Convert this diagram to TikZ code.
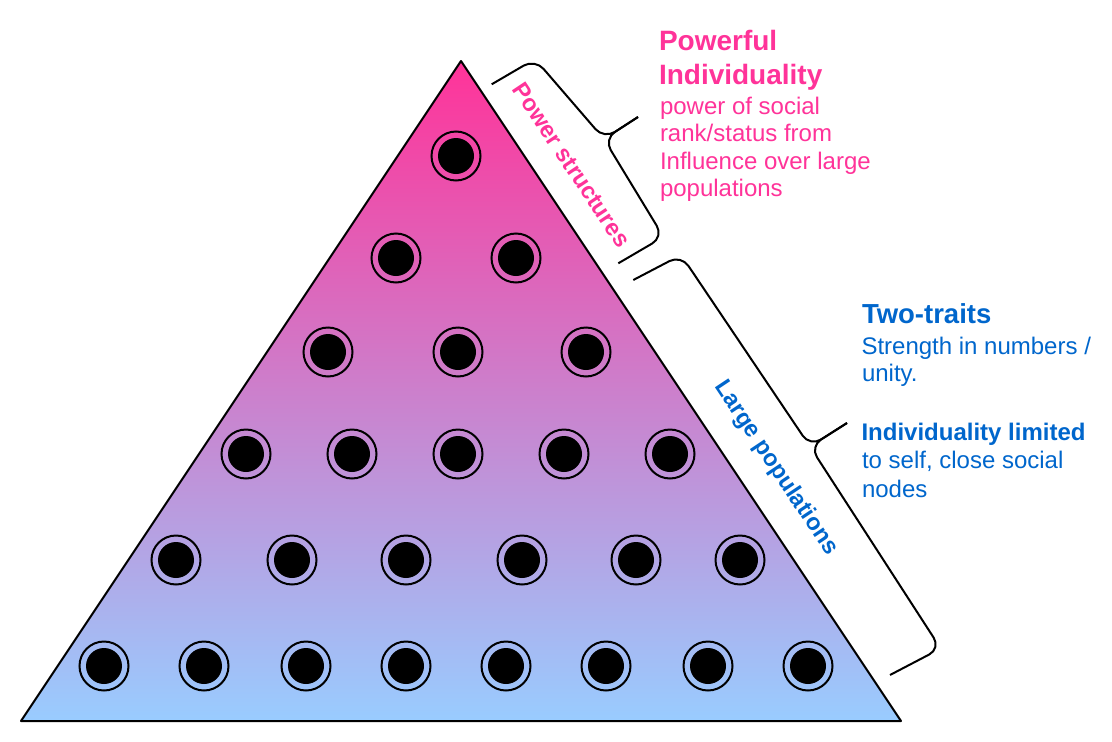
\documentclass[tikz,border=0pt]{standalone}
\usepackage{fontspec}
\setmainfont{Liberation Sans}
\definecolor{pinkc}{HTML}{FF3399}
\definecolor{bluec}{HTML}{0066CC}
\definecolor{skyc}{HTML}{99CCFF}
\begin{document}
\begin{tikzpicture}[x=1pt,y=-1pt,
  ring/.style={circle,draw=black,line width=2pt,minimum size=49pt,inner sep=0pt},
  dot/.style={circle,fill=black,minimum size=36pt,inner sep=0pt},
  bracket/.style={draw=black,line width=2pt,rounded corners=13pt,line join=round},
  txt/.style={anchor=base west,inner sep=0pt,outer sep=0pt},
  pinktitle/.style={txt,text=pinkc,font=\fontsize{28}{34}\selectfont\bfseries},
  pinkbody/.style={txt,text=pinkc,font=\fontsize{24}{28}\selectfont},
  bluetitle/.style={txt,text=bluec,font=\fontsize{27.5}{34}\selectfont\bfseries},
  bluebold/.style={txt,text=bluec,font=\fontsize{24}{28}\selectfont\bfseries},
  bluebody/.style={txt,text=bluec,font=\fontsize{24}{28}\selectfont},
  sidelabel/.style={inner sep=0pt,rotate=-56.3,font=\fontsize{23.5}{28}\selectfont\bfseries}]
\useasboundingbox (0,0) rectangle (1112,742);
% pyramid
\coordinate (apex) at (461,61);
\coordinate (bl) at (21,721);
\coordinate (br) at (901,721);
\draw[line width=2pt,line join=round,top color=pinkc,bottom color=skyc] (apex) -- (br) -- (bl) -- cycle;
% individuals
\foreach \n/\x/\y in {
  a/456/156,
  b1/396/258, b2/516/258,
  c1/328/352, c2/458/352, c3/586/352,
  d1/246/454, d2/352/454, d3/458/454, d4/564/454, d5/670/454,
  e1/176/560, e2/292/560, e3/406/560, e4/522/560, e5/636/560, e6/740/560,
  f1/104/666, f2/204/666, f3/306/666, f4/406/666, f5/506/666, f6/606/666, f7/708/666, f8/808/666} {
  \node[ring] (r\n) at (\x,\y) {};
  \node[dot] (k\n) at (r\n) {};
}
% bracket 1 (power structures)
\coordinate (s1) at (491.7,84.3);
\coordinate (u1) at (535,59);
\coordinate (m1) at (604,139);
\coordinate (t1) at (638,117);
\coordinate (l1) at (663.5,236.9);
\coordinate (e1) at (618.3,263.3);
\draw[bracket] (s1) -- (u1) -- (m1) -- (t1);
\draw[bracket] (t1) -- (m1) -- (l1) -- (e1);
% bracket 2 (large populations)
\coordinate (s2) at (633.3,280);
\coordinate (u2) at (681.1,255);
\coordinate (m2) at (810,446.5);
\coordinate (t2) at (847,423);
\coordinate (l2) at (940.7,648.5);
\coordinate (e2) at (890,675);
\draw[bracket] (s2) -- (u2) -- (m2) -- (t2);
\draw[bracket] (t2) -- (m2) -- (l2) -- (e2);
% rotated labels
\node[sidelabel,text=pinkc] (lps) at (571.7,165) {Power structures};
\node[sidelabel,text=bluec] (llp) at (775.8,468) {Large populations};
% pink text
\node[pinktitle] (p1) at (659,50) {Powerful};
\node[pinktitle] (p2) at (659,84) {Individuality};
\node[pinkbody] (p3) at (660,114.3) {power of social};
\node[pinkbody] (p4) at (660,141.7) {rank/status from};
\node[pinkbody] (p5) at (660,169.3) {Influence over large};
\node[pinkbody] (p6) at (660,196.7) {populations};
% blue text
\node[bluetitle] (q1) at (862,323.3) {Two-traits};
\node[bluebody] (q2) at (861.5,354) {Strength in numbers /};
\node[bluebody] (q3) at (862,381.7) {unity.};
\node[bluebold] (q4) at (861.5,440) {Individuality limited};
\node[bluebody] (q5) at (862,468.3) {to self, close social};
\node[bluebody] (q6) at (862,497.3) {nodes};
\end{tikzpicture}
\end{document}
